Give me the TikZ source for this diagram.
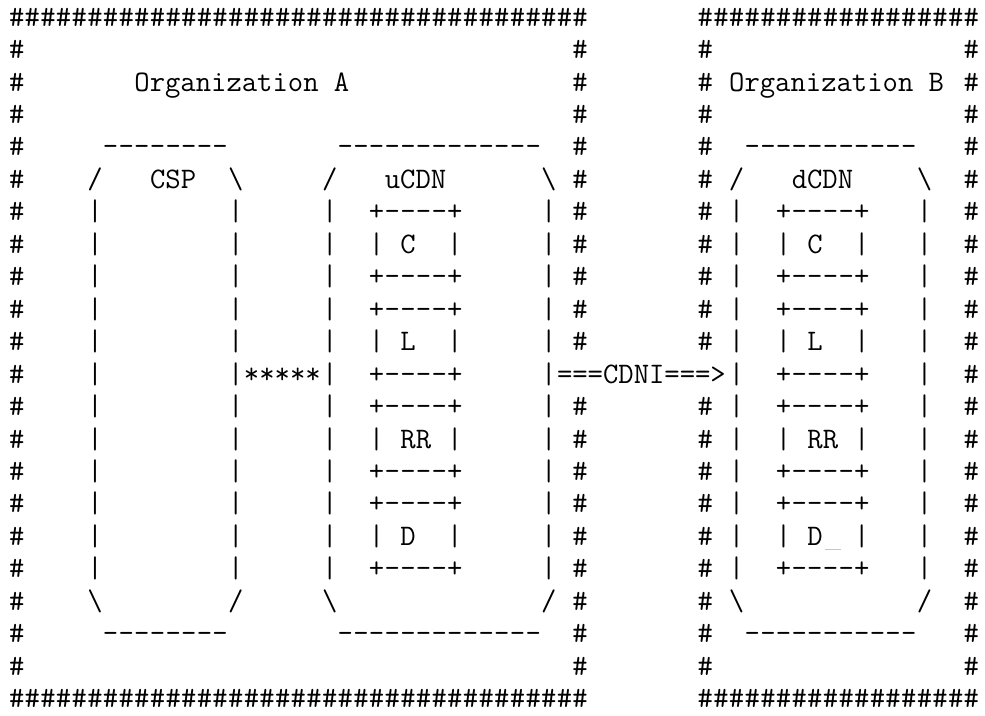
\documentclass[tikz,border=0pt]{standalone}
\usepackage{tikz}
\definecolor{cursorblue}{HTML}{A9CBEC}
\newcommand\asciifont{\fontsize{16.96pt}{18.5pt}\selectfont\ttfamily}
\tikzset{
  glyph/.style={font=\asciifont,inner sep=0pt,text height=10.4pt,text depth=0pt},
  run/.style={glyph,anchor=west},
}

\begin{document}
\begin{tikzpicture}[x=0.313cm,y=-0.649cm]
  \useasboundingbox (-1.067,-0.524) rectangle (61.87,21.54);
  % hash frames of the two organizations
  \foreach \o/\l/\r in {A/0/36,B/44/61}{
    \foreach \c in {\l,...,\r}{
      \node[glyph] (\o-top\c) at (\c,0) {\#};
      \node[glyph] (\o-bot\c) at (\c,21) {\#};
    }
  }
  \foreach \k in {1,...,20}{
    \node[glyph] (A-w\k) at (0,\k) {\#};
    \node[glyph] (B-e\k) at (61,\k) {\#};
    \ifnum\k=11\else
      \node[glyph] (A-e\k) at (36,\k) {\#};
      \node[glyph] (B-w\k) at (44,\k) {\#};
    \fi
  }
  \node[run] (orgA) at (7.5,2) {Organization A};
  \node[run] (orgB) at (45.5,2) {Organization B};
  % CSP, uCDN and dCDN outlines
  \foreach \n/\l/\r in {csp/5/14,ucdn/20/34,dcdn/46/58}{
    \pgfmathtruncatemacro\la{\l+1}
    \pgfmathtruncatemacro\rb{\r-1}
    \foreach \c in {\la,...,\rb}{
      \node[glyph] (\n-top\c) at (\c,4) {-};
      \node[glyph] (\n-bot\c) at (\c,19) {-};
    }
    \node[glyph] (\n-nw) at (\l,5) {/};
    \node[glyph] (\n-ne) at (\r,5) {\textbackslash};
    \node[glyph] (\n-sw) at (\l,18) {\textbackslash};
    \node[glyph] (\n-se) at (\r,18) {/};
    \foreach \k in {6,...,17}{
      \node[glyph] (\n-w\k) at (\l,\k) {|};
      \node[glyph] (\n-e\k) at (\r,\k) {|};
    }
  }
  \node[run] (csp) at (8.5,5) {CSP};
  \node[run] (ucdn) at (23.5,5) {uCDN};
  \node[run] (dcdn) at (49.5,5) {dCDN};
  % C, L, RR, D boxes inside both CDNs
  \foreach \b/\l in {u/23,d/49}{
    \pgfmathtruncatemacro\lr{\l+5}
    \foreach \f [count=\i from 0] in {C,L,RR,D}{
      \pgfmathtruncatemacro\ya{6+3*\i}
      \pgfmathtruncatemacro\yb{\ya+1}
      \pgfmathtruncatemacro\yc{\ya+2}
      \foreach \y in {\ya,\yc}{
        \node[glyph] (\b\f-l\y) at (\l,\y) {+};
        \node[glyph] (\b\f-r\y) at (\lr,\y) {+};
        \foreach \c in {1,...,4}{\node[glyph] (\b\f-\y-\c) at (\l+\c,\y) {-};}
      }
      \node[glyph] (\b\f-lb) at (\l,\yb) {|};
      \node[glyph] (\b\f-rb) at (\lr,\yb) {|};
      \node[run] (\b\f) at (\l+1.5,\yb) {\f};
    }
  }
  % interfaces
  \node[run] (stars) at (14.5,11) {*****};
  \node[run] (cdni) at (34.5,11) {===CDNI===>};
  \draw[cursorblue,line width=.7pt] (51.65,16.42) -- (52.7,16.42);
\end{tikzpicture}
\end{document}
